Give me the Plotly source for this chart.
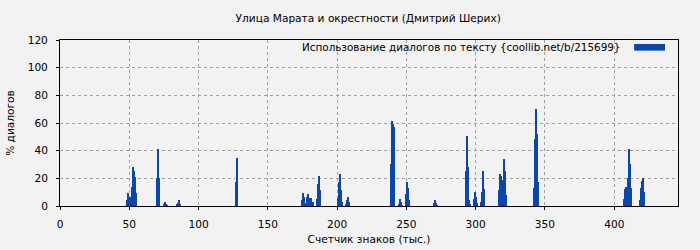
import plotly.graph_objects as go

title = "Улица Марата и окрестности (Дмитрий Шерих)"
series_name = "Использование диалогов по тексту {coollib.net/b/215699}"
x_title = "Счетчик знаков (тыс.)"
y_title = "% диалогов"

# positions (thousands of characters) and % dialogue values
pos = [
    48.7, 49.4, 50.2, 50.9, 51.6, 52.3, 53.0, 53.7, 54.4, 55.2,
    69.7, 70.4, 71.1,
    75.4, 76.1, 76.8, 77.5,
    84.1, 84.8, 85.6, 86.3,
    126.7, 127.4, 128.1,
    174.4, 175.1, 175.8, 176.6, 177.3, 178.0, 178.7, 179.4, 180.2, 180.9, 181.6, 182.3,
    185.2, 185.9, 186.6, 187.4,
    200.4, 201.1, 201.8, 202.5, 203.2,
    206.1, 206.8, 207.5, 208.3,
    238.6, 239.3, 240.0, 240.7, 241.4,
    244.4, 245.1, 245.8, 246.6,
    249.5, 250.2, 250.9, 251.6,
    269.7, 270.4, 271.1, 271.8,
    292.8, 293.5, 294.2, 294.9, 295.7,
    298.6, 299.3, 300.0, 300.7,
    303.6, 304.3, 305.0, 305.7,
    316.6, 317.3, 318.0, 318.7, 319.4, 320.2, 320.9, 321.6,
    341.9, 342.6, 343.3, 344.0, 344.8,
    406.9, 407.6, 408.3, 409.0, 409.7, 410.5, 411.2, 411.9,
    418.4, 419.1, 419.8, 420.5, 421.2,
]
vals = [
    4.3, 9.4, 6.7, 3.4, 2.5, 14.0, 28.4, 25.3, 21.0, 9.4,
    20.5, 41.0, 20.5,
    1.7, 3.0, 1.7, 0.5,
    1.7, 2.5, 4.0, 1.7,
    17.3, 35.0, 17.3,
    4.3, 9.4, 6.7, 2.5, 2.5, 6.7, 8.7, 4.3, 5.8, 5.8, 3.0, 3.0,
    5.0, 15.9, 21.7, 11.6,
    5.8, 17.3, 23.0, 11.6, 3.0,
    1.7, 4.3, 6.5, 3.0,
    30.4, 61.4, 59.2, 57.0, 27.5,
    1.7, 5.0, 3.0, 0.7,
    8.7, 17.3, 13.0, 4.3,
    2.5, 4.3, 2.5, 0.7,
    25.3, 50.6, 28.4, 4.3, 1.7,
    5.0, 9.9, 6.5, 2.5,
    3.0, 9.9, 25.3, 12.3,
    11.6, 23.0, 21.7, 18.8, 17.3, 34.0, 25.3, 8.0,
    13.0, 48.4, 70.0, 52.0, 17.3,
    5.0, 12.3, 13.7, 9.9, 20.2, 41.2, 30.4, 13.0,
    4.3, 13.0, 18.0, 20.2, 9.9,
]

x_ticks = [0, 50, 100, 150, 200, 250, 300, 350, 400]
y_ticks = [0, 20, 40, 60, 80, 100, 120]

bar_color = "#0b47a8"
bg = "#f2f2f2"
font_family = "DejaVu Sans"
fs = 10.6

fig = go.Figure()
fig.add_trace(go.Bar(
    x=pos, y=vals, width=0.72, marker=dict(color=bar_color, line=dict(width=0)),
    name=series_name, showlegend=False,
))

fig.update_layout(
    width=700, height=250,
    margin=dict(l=60, r=22, t=40, b=44, autoexpand=False),
    paper_bgcolor=bg, plot_bgcolor=bg,
    font=dict(family=font_family, size=fs, color="#000"),
    bargap=0,
    title=dict(text=title, x=0.526, xanchor="center", y=0.928, yanchor="middle",
               font=dict(size=fs, family=font_family)),
    xaxis=dict(
        range=[0, 446], tickvals=x_ticks, ticktext=[str(v) for v in x_ticks],
        showline=True, linecolor="#000", linewidth=1, mirror=True,
        ticks="outside", ticklen=3, tickcolor="#000", ticklabelstandoff=5,
        showgrid=True, gridcolor="#a0a0a0", griddash="dot", gridwidth=1,
        zeroline=False, automargin=False,
        title=dict(text=x_title, font=dict(size=fs), standoff=6),
    ),
    yaxis=dict(
        range=[0, 120], tickvals=y_ticks, ticktext=[str(v) for v in y_ticks],
        showline=True, linecolor="#000", linewidth=1, mirror=True,
        ticks="outside", ticklen=3, tickcolor="#000", ticklabelstandoff=6,
        showgrid=True, gridcolor="#a0a0a0", griddash="dot", gridwidth=1,
        zeroline=False, automargin=False,
        title=dict(text=y_title, font=dict(size=fs), standoff=10),
    ),
)

# legend: text on the left, wide swatch on the right (top right of plot)
fig.add_annotation(
    text=series_name, xref="paper", yref="paper", x=0.909, y=0.958,
    xanchor="right", yanchor="middle", showarrow=False,
    font=dict(size=10.4, family=font_family, color="#000"),
)
fig.add_shape(
    type="rect", xref="paper", yref="paper",
    x0=0.929, x1=0.979, y0=0.936, y1=0.976,
    fillcolor=bar_color, line=dict(width=0),
)

fig.write_html("out.html")
